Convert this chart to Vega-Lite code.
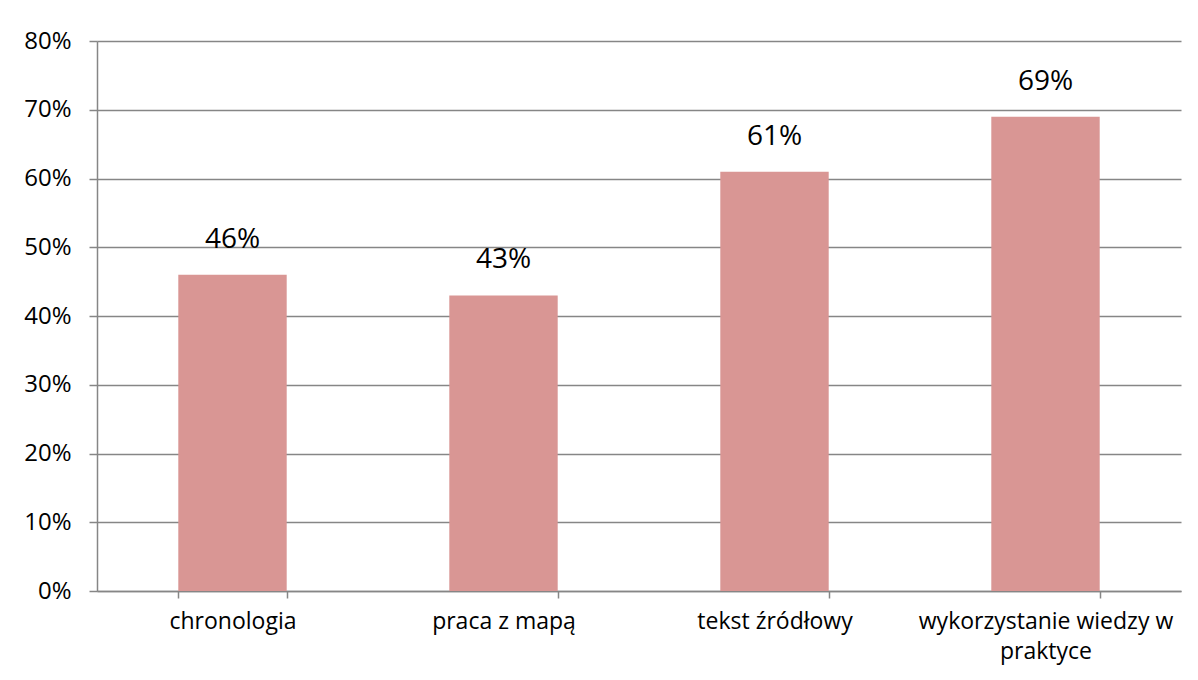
{
  "$schema": "https://vega.github.io/schema/vega-lite/v6.json",
  "width": 1084,
  "height": 550,
  "autosize": "none",
  "padding": {"left": 97, "top": 41, "right": 17, "bottom": 89},
  "background": "white",
  "config": {
    "view": {"stroke": null},
    "font": "Open Sans"
  },
  "data": {
    "values": [
      {"kategoria": "chronologia", "wynik": 0.46},
      {"kategoria": "praca z mapą", "wynik": 0.43},
      {"kategoria": "tekst źródłowy", "wynik": 0.61},
      {"kategoria": "wykorzystanie wiedzy w praktyce", "wynik": 0.69}
    ]
  },
  "encoding": {
    "x": {
      "field": "kategoria",
      "type": "nominal",
      "sort": null,
      "scale": {"paddingInner": 0.6, "paddingOuter": 0.3},
      "axis": {
        "title": null,
        "labelAngle": 0,
        "labelFont": "Open Sans",
        "labelFontSize": 23,
        "labelColor": "#000000",
        "labelPadding": 12,
        "labelLimit": 0,
        "labelLineHeight": 30,
        "labelExpr": "datum.value == 'wykorzystanie wiedzy w praktyce' ? ['wykorzystanie wiedzy w', 'praktyce'] : datum.label",
        "tickBand": "extent",
        "tickSize": 7,
        "tickColor": "#868686",
        "tickWidth": 1.5,
        "domainColor": "#868686",
        "domainWidth": 1.5,
        "grid": false
      }
    },
    "y": {
      "field": "wynik",
      "type": "quantitative",
      "scale": {"domain": [0, 0.8], "nice": false},
      "axis": {
        "title": null,
        "values": [0, 0.1, 0.2, 0.3, 0.4, 0.5, 0.6, 0.7, 0.8],
        "format": ".0%",
        "labelFont": "Open Sans",
        "labelFontSize": 24,
        "labelColor": "#000000",
        "labelPadding": 18,
        "tickSize": 8,
        "tickColor": "#868686",
        "tickWidth": 1.5,
        "domainColor": "#868686",
        "domainWidth": 1.5,
        "grid": true,
        "gridColor": "#868686",
        "gridWidth": 1.5
      }
    }
  },
  "layer": [
    {"mark": {"type": "bar", "color": "#D99694"}},
    {
      "mark": {"type": "text", "font": "Open Sans", "fontSize": 28, "color": "#000000", "baseline": "alphabetic", "dy": -27},
      "encoding": {"text": {"field": "wynik", "type": "quantitative", "format": ".0%"}}
    }
  ]
}
